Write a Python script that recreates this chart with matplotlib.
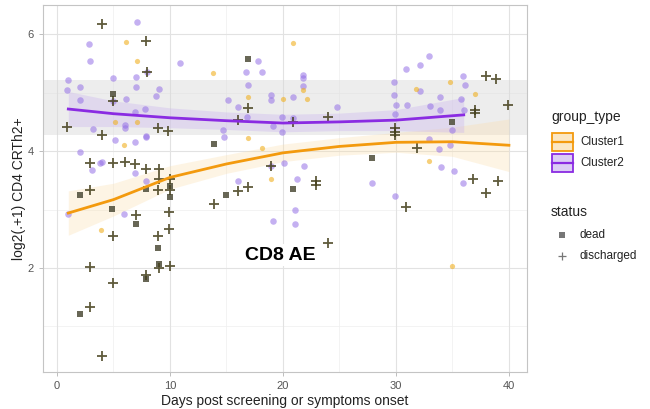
import matplotlib
matplotlib.use("Agg")
import matplotlib.pyplot as plt
from matplotlib.patches import Rectangle
from matplotlib.lines import Line2D

plt.rcParams['font.family'] = ['Liberation Sans', 'DejaVu Sans']

# ---- data ----
purple_x = [7.1, 2.8, 2.9, 10.9, 1.0, 0.9, 2.0, 2.0, 5.0, 7.0, 7.0, 9.0, 8.8, 6.1, 7.8, 6.9, 3.2, 6.0, 6.0, 7.9,
            17.8, 16.7, 18.1, 16.9, 15.1, 18.9, 18.9, 16.0, 16.8, 14.7, 14.8,
            5.1, 6.9, 7.9, 2.0, 4.0, 3.8, 3.1, 6.9, 7.9, 16.0,
            1.0, 5.9, 19.1, 29.9, 21.1, 21.1,
            32.9, 32.1, 30.9, 21.8, 21.8, 21.8, 20.9, 24.8, 29.8, 29.8, 30.0, 31.0, 29.9, 32.1, 33.0, 33.9,
            33.9, 35.9, 36.1, 35.8, 36.0, 35.0,
            19.9, 20.9, 19.1, 19.9, 32.9, 33.8, 34.8, 18.9, 20.1, 21.9, 21.2, 27.9, 35.1, 34.0, 35.9,
            8.0, 5.0]
purple_y = [6.21, 5.84, 5.54, 5.51, 5.21, 5.04, 5.10, 4.87, 5.25, 5.27, 5.09, 5.06, 4.94, 4.89, 4.72, 4.67, 4.38, 4.44, 4.39, 4.26,
            5.54, 5.36, 5.36, 5.13, 4.88, 4.96, 4.88, 4.75, 4.59, 4.36, 4.24,
            4.19, 4.16, 4.24, 3.99, 3.82, 3.80, 3.68, 3.63, 3.49, 3.48,
            2.93, 2.93, 2.81, 3.23, 2.99, 2.75,
            5.62, 5.47, 5.41, 5.30, 5.25, 5.12, 4.92, 4.76, 5.18, 4.96, 4.79, 4.79, 4.64, 5.03, 4.77, 4.93,
            4.70, 5.28, 5.13, 4.90, 4.70, 4.36,
            4.58, 4.56, 4.43, 4.33, 4.20, 4.03, 4.10, 3.74, 3.79, 3.75, 3.52, 3.46, 3.66, 3.72, 3.45,
            5.35, 4.85]

orange_x = [6.1, 7.05, 5.1, 7.05, 13.8, 16.9, 16.9, 5.9, 18.9, 3.9, 20.9, 21.8, 20.0, 22.1, 31.8, 34.8, 37.0,
            18.1, 32.9, 35.0]
orange_y = [5.87, 5.54, 4.49, 4.49, 5.33, 4.93, 4.22, 4.10, 3.53, 2.65, 5.85, 5.05, 4.90, 4.89, 5.07, 5.18, 4.97,
            4.05, 3.83, 2.03]

dead_x = [16.9, 5.0, 13.9, 7.9, 10.0, 15.0, 2.0, 4.9, 7.0, 8.9, 9.0, 7.9, 2.0, 20.9, 27.9, 35.0, 10.0]
dead_y = [5.58, 4.97, 4.12, 3.36, 3.40, 3.25, 3.25, 3.01, 2.75, 2.35, 2.07, 1.81, 1.21, 3.36, 3.88, 4.50, 3.22]

disch_x = [4.0, 7.9, 0.9, 4.0, 8.9, 9.85, 8.0, 5.0, 16.9, 16.0, 2.9, 5.0, 6.0, 6.9, 7.9, 9.0, 9.0, 8.9, 10.0,
           10.0, 16.0, 16.9, 2.9, 18.9, 7.0, 5.0, 8.9, 9.95, 9.95, 2.9, 9.0, 10.0, 7.9, 5.0, 2.9, 4.0, 13.9,
           30.9, 24.0, 38.0, 20.9, 24.0, 29.9, 29.9, 29.9, 31.9, 22.9, 22.9, 36.8, 39.0, 38.0, 38.9, 39.9,
           37.0, 37.0]
disch_y = [6.18, 5.88, 4.42, 4.27, 4.40, 4.35, 5.35, 4.85, 4.73, 4.54, 3.79, 3.79, 3.82, 3.78, 3.69, 3.70, 3.53,
           3.33, 3.52, 3.33, 3.32, 3.39, 3.33, 3.74, 2.91, 2.54, 2.54, 2.95, 2.67, 2.02, 2.00, 2.03, 1.88, 1.75,
           1.33, 0.50, 3.09, 3.04, 2.43, 3.29, 4.49, 4.59, 4.39, 4.33, 4.27, 4.05, 3.48, 3.42, 3.52, 3.48,
           5.28, 5.23, 4.79, 4.70, 4.65]

# smooth fits (read at a few days) and ribbon half widths
c1_x = [1, 5, 10, 15, 20, 25, 30, 35, 40]
c1_y = [2.94, 3.17, 3.55, 3.78, 3.97, 4.08, 4.15, 4.16, 4.10]
c1_se = [0.38, 0.28, 0.20, 0.16, 0.15, 0.15, 0.17, 0.25, 0.45]
c2_x = [1, 5, 10, 15, 20, 25, 30, 36]
c2_y = [4.72, 4.64, 4.57, 4.52, 4.48, 4.50, 4.53, 4.62]
c2_se = [0.30, 0.22, 0.17, 0.15, 0.15, 0.15, 0.18, 0.30]

band_lo, band_hi = 4.27, 5.21

x_ticks = [0, 10, 20, 30, 40]
y_ticks = [2, 4, 6]

col1 = '#F39A0E'
col2 = '#8A2BE2'

fig = plt.figure(figsize=(6.5, 4.09), dpi=100)
ax = fig.add_axes([43 / 650, 1 - 372 / 409, (527 - 43) / 650, (372 - 5) / 409])

ax.set_xlim(-1.24, 41.6)
ax.set_ylim(0.22, 6.50)

# grid like theme_light
for v in [5, 15, 25, 35]:
    ax.axvline(v, color='#efefef', lw=0.5, zorder=0)
for v in [1, 3, 5]:
    ax.axhline(v, color='#efefef', lw=0.5, zorder=0)
for v in x_ticks:
    ax.axvline(v, color='#e2e2e2', lw=0.8, zorder=0)
for v in y_ticks:
    ax.axhline(v, color='#e2e2e2', lw=0.8, zorder=0)

ax.axhspan(band_lo, band_hi, color='#d9d9d9', alpha=0.45, lw=0, zorder=1)

lo1 = [y - s for y, s in zip(c1_y, c1_se)]
hi1 = [y + s for y, s in zip(c1_y, c1_se)]
lo2 = [y - s for y, s in zip(c2_y, c2_se)]
hi2 = [y + s for y, s in zip(c2_y, c2_se)]
ax.fill_between(c1_x, lo1, hi1, color='#fbdca6', alpha=0.3, lw=0, zorder=1)
ax.fill_between(c2_x, lo2, hi2, color='#c9b3ef', alpha=0.35, lw=0, zorder=1)

ax.scatter(purple_x, purple_y, s=22, color='#9470e6', alpha=0.55, lw=0, zorder=2)
ax.scatter(orange_x, orange_y, s=14, color='#f0b020', alpha=0.6, lw=0, zorder=2)
ax.scatter(dead_x, dead_y, s=15, marker='s', color='#4d4c38', alpha=0.85, lw=0, zorder=3)
ax.scatter(disch_x, disch_y, s=42, marker='+', color='#433e1a', alpha=0.85, lw=1.3, zorder=3)

ax.plot(c1_x, c1_y, color=col1, lw=2.0, zorder=4)
ax.plot(c2_x, c2_y, color=col2, lw=2.0, zorder=4)

ax.text(19.8, 2.22, 'CD8 AE', fontsize=14, fontweight='bold', ha='center', va='center',
        zorder=5, bbox=dict(facecolor='white', edgecolor='none', pad=1.5))

ax.set_xticks(x_ticks)
ax.set_yticks(y_ticks)
ax.tick_params(colors='#b3b3b3', labelcolor='#555555', labelsize=8, length=3, width=0.6)
for s in ax.spines.values():
    s.set_color('#c4c4c4')
    s.set_linewidth(0.8)
ax.set_xlabel('Days post screening or symptoms onset', fontsize=10, color='#222222', labelpad=2)
ax.set_ylabel('log2(.+1) CD4 CRTh2+', fontsize=10, color='#222222', labelpad=1)

# legend drawn in pixel coordinates
lax = fig.add_axes([0, 0, 1, 1])
lax.set_xlim(0, 650)
lax.set_ylim(409, 0)
lax.axis('off')
lax.patch.set_visible(False)

lax.text(551, 117, 'group_type', fontsize=10, color='#222222', va='center')
for yc, col, fillc, lab in [(142, col1, '#fbe7c4', 'Cluster1'), (163, col2, '#dccdf5', 'Cluster2')]:
    lax.add_patch(Rectangle((552, yc - 9), 21, 18, facecolor=fillc, edgecolor=col, lw=1.3))
    lax.add_line(Line2D([552, 573], [yc, yc], color=col, lw=1.6))
    lax.text(580, yc, lab, fontsize=8.5, color='#222222', va='center')

lax.text(551, 212, 'status', fontsize=10, color='#222222', va='center')
lax.scatter([562], [235], s=14, marker='s', color='#777777', lw=0)
lax.text(580, 235, 'dead', fontsize=8.5, color='#222222', va='center')
lax.scatter([562], [256], s=40, marker='+', color='#777777', lw=0.9)
lax.text(580, 256, 'discharged', fontsize=8.5, color='#222222', va='center')

fig.savefig('out.png', dpi=100, facecolor='white')
